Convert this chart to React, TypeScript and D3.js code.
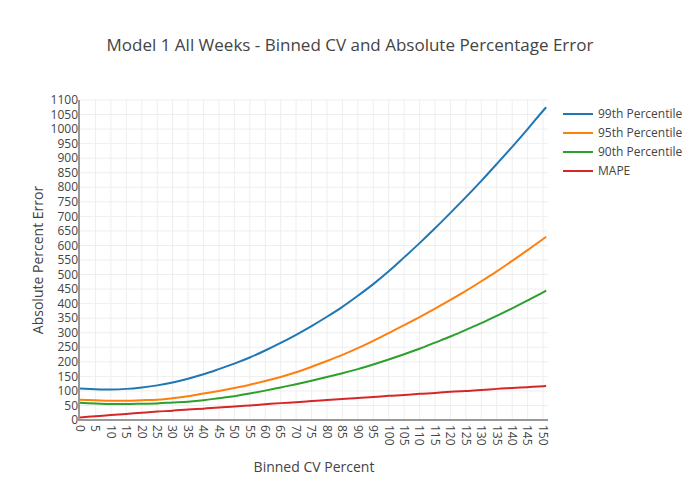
import React, { useEffect, useRef } from "react";
import * as d3 from "d3";

// Binned CV percent (x) and the error curves
const cvPercent = [
  0, 5, 10, 15, 20, 25, 30, 35, 40, 45, 50, 55, 60, 65, 70, 75, 80, 85, 90, 95,
  100, 105, 110, 115, 120, 125, 130, 135, 140, 145, 150, 151,
];
const p99 = [
  108, 106, 105, 107, 112, 119, 129, 142, 157, 175, 194, 215, 239, 265, 293, 323,
  355, 389, 427, 467, 511, 559, 608, 659, 712, 766, 822, 880, 939, 1000, 1063, 1075,
];
const p95 = [
  70, 68, 66, 66, 68, 70, 75, 82, 91, 100, 110, 121, 134, 148, 164, 183, 203, 224,
  247, 272, 299, 326, 354, 383, 413, 444, 477, 511, 547, 584, 622, 630,
];
const p90 = [
  59, 57, 55, 55, 56, 57, 60, 63, 68, 75, 82, 91, 101, 112, 123, 135, 148, 161,
  175, 191, 208, 226, 245, 266, 287, 310, 333, 358, 384, 411, 439, 445,
];
const mape = [
  9, 13, 17, 21, 25, 29, 32, 36, 39, 43, 46, 50, 54, 58, 61, 65, 69, 72, 76, 79,
  83, 86, 90, 93, 97, 100, 103, 107, 110, 113, 116, 117,
];

const seriesNames = ["99th Percentile", "95th Percentile", "90th Percentile", "MAPE"];
const seriesValues = [p99, p95, p90, mape];
const seriesColors = ["#1f77b4", "#ff7f0e", "#2ca02c", "#d62728"];

const xTicks = d3.range(0, 151, 5);
const yTicks = d3.range(0, 1101, 50);

const App: React.FC = () => {
  const chartRef = useRef<SVGSVGElement | null>(null);

  useEffect(() => {
    const svg = d3.select(chartRef.current);
    svg.selectAll("*").remove();

    const width = 700,
      height = 500,
      margin = { top: 100, right: 152, bottom: 80, left: 80 };
    const font = "'Open Sans', verdana, arial, sans-serif";

    const x = d3
      .scaleLinear()
      .domain([0, 151.6])
      .range([margin.left, width - margin.right]);
    const y = d3
      .scaleLinear()
      .domain([0, 1100])
      .range([height - margin.bottom, margin.top]);

    svg.append("rect").attr("width", width).attr("height", height).attr("fill", "#fff");

    // grid
    const grid = svg.append("g").attr("stroke", "#eee").attr("stroke-width", 1);
    grid
      .selectAll("line.v")
      .data(xTicks.filter((d) => d > 0))
      .enter()
      .append("line")
      .attr("x1", (d) => x(d))
      .attr("x2", (d) => x(d))
      .attr("y1", margin.top)
      .attr("y2", height - margin.bottom);
    grid
      .selectAll("line.h")
      .data(yTicks.filter((d) => d > 0))
      .enter()
      .append("line")
      .attr("x1", margin.left)
      .attr("x2", width - margin.right)
      .attr("y1", (d) => y(d))
      .attr("y2", (d) => y(d));

    // lines
    const line = d3
      .line<number>()
      .x((_, i) => x(cvPercent[i]))
      .y((d) => y(d))
      .curve(d3.curveMonotoneX);

    seriesValues.forEach((vals, i) => {
      svg
        .append("path")
        .datum(vals)
        .attr("fill", "none")
        .attr("stroke", seriesColors[i])
        .attr("stroke-width", 2)
        .attr("d", line);
    });

    // axis lines
    svg
      .append("line")
      .attr("x1", margin.left - 1)
      .attr("x2", margin.left - 1)
      .attr("y1", margin.top)
      .attr("y2", height - margin.bottom + 1)
      .attr("stroke", "#999")
      .attr("stroke-width", 2);
    svg
      .append("line")
      .attr("x1", margin.left - 1)
      .attr("x2", width - margin.right)
      .attr("y1", height - margin.bottom)
      .attr("y2", height - margin.bottom)
      .attr("stroke", "#999")
      .attr("stroke-width", 2);

    // y tick labels
    svg
      .append("g")
      .selectAll("text")
      .data(yTicks)
      .enter()
      .append("text")
      .attr("x", margin.left - 2)
      .attr("y", (d) => y(d))
      .attr("dy", "0.35em")
      .attr("text-anchor", "end")
      .attr("font-family", font)
      .attr("font-size", 12)
      .attr("fill", "#444")
      .text((d) => d);

    // x tick labels, rotated
    svg
      .append("g")
      .selectAll("text")
      .data(xTicks)
      .enter()
      .append("text")
      .attr("transform", (d) => `translate(${x(d)},${height - margin.bottom + 5}) rotate(90)`)
      .attr("dy", "0.35em")
      .attr("text-anchor", "start")
      .attr("font-family", font)
      .attr("font-size", 12)
      .attr("fill", "#444")
      .text((d) => d);

    // titles
    svg
      .append("text")
      .attr("x", width / 2)
      .attr("y", 51)
      .attr("text-anchor", "middle")
      .attr("font-family", font)
      .attr("font-size", 17)
      .attr("fill", "#444")
      .text("Model 1 All Weeks - Binned CV and Absolute Percentage Error");

    svg
      .append("text")
      .attr("x", (margin.left + width - margin.right) / 2)
      .attr("y", 472)
      .attr("text-anchor", "middle")
      .attr("font-family", font)
      .attr("font-size", 14)
      .attr("fill", "#444")
      .text("Binned CV Percent");

    svg
      .append("text")
      .attr("transform", `translate(43,${(margin.top + height - margin.bottom) / 2}) rotate(-90)`)
      .attr("text-anchor", "middle")
      .attr("font-family", font)
      .attr("font-size", 14)
      .attr("fill", "#444")
      .text("Absolute Percent Error");

    // legend
    const legend = svg
      .append("g")
      .selectAll("g")
      .data(seriesNames)
      .enter()
      .append("g")
      .attr("transform", (_, i) => `translate(563,${114 + i * 19})`);
    legend
      .append("line")
      .attr("x1", 0)
      .attr("x2", 30)
      .attr("stroke", (_, i) => seriesColors[i])
      .attr("stroke-width", 2);
    legend
      .append("text")
      .attr("x", 35)
      .attr("dy", "0.35em")
      .attr("font-family", font)
      .attr("font-size", 12)
      .attr("fill", "#444")
      .text((d) => d);
  }, []);

  return (
    <svg
      ref={chartRef}
      width={700}
      height={500}
      style={{ position: "absolute", left: 0, top: 0 }}
    ></svg>
  );
};

export default App;
